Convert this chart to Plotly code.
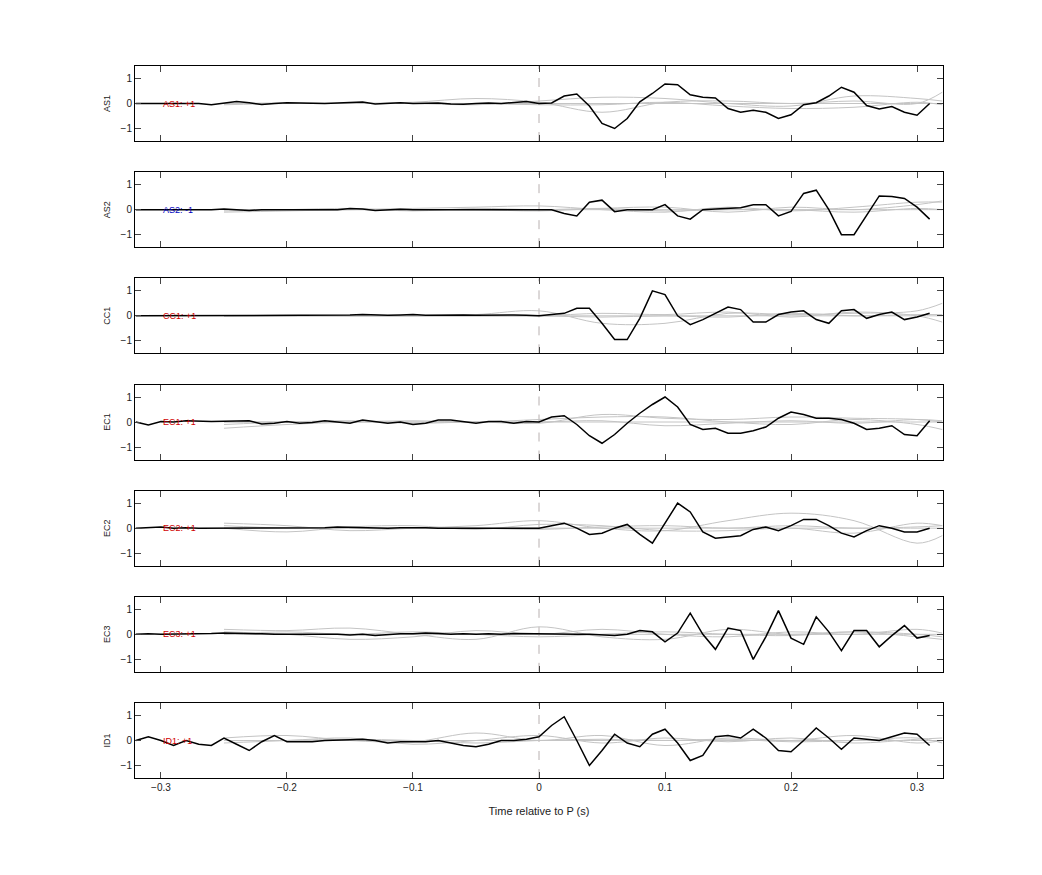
import plotly.graph_objects as go

times = [round(-0.32 + 0.01 * i, 2) for i in range(64)]
stations = ["AS1", "AS2", "CC1", "EC1", "EC2", "EC3", "ID1"]
labels = ["AS1: +1", "AS2: -1", "CC1: +1", "EC1: +1", "EC2: +1", "EC3: +1", "ID1: +1"]
label_colors = ["#d00000", "#0000c0", "#d00000", "#d00000", "#d00000", "#d00000", "#d00000"]

pre = {
 "AS1": [0,0,0.02,0,0.02,0,-0.05,0,0.08,0.03,-0.04,0,0.03,0.02,0,0,0.02,0.05,0.06,-0.02,0,0.03,0,0,0.02,-0.02,-0.03,0,0.02,0,0.05,0.08],
 "AS2": [0,0,0,0,0,-0.02,0,0.03,0,-0.03,0,0,0.02,0,0.02,0,0,0.05,0.03,-0.03,0,0.02,0,0,0.03,0,0,0.02,0,0.02,0,0.02],
 "CC1": [0,0,0,0.02,0,0,0,0.02,0,0,0,0.02,0.02,0,0,0,0.02,0.03,0.05,0.03,0.02,0.03,0.05,0.02,0.03,0.05,0.03,0.02,0.03,0.05,0.03,0.02],
 "EC1": [0,-0.12,0.02,0,0.05,0.02,0.02,0.03,0.05,0.05,-0.08,-0.05,0.02,-0.05,-0.02,0.05,0,-0.05,0.08,0,-0.05,0,-0.1,-0.05,0.08,0.08,0,-0.05,0.02,0.02,-0.05,0.02],
 "EC2": [0,0.03,0.05,0,0.02,0,0,0.02,0.03,0,0,0.02,0.02,0,0.03,0.02,0.05,0.03,0.02,0,0,0.02,0.03,0.02,0,0,0.02,0,0.02,0,0.02,0],
 "EC3": [0,0.02,0,0,0.02,0,0.03,0.05,0.05,0.05,0.02,0,0,0.02,0,0,0,-0.03,0,-0.05,0,0.02,0.02,0.05,0.03,0,0.02,0,0.02,0,0.03,0.02],
 "ID1": [0,0.15,0,-0.2,0,-0.15,-0.2,0.1,-0.15,-0.4,-0.05,0.2,-0.05,-0.05,-0.05,0,0.03,0.03,0.05,0,-0.1,-0.05,-0.05,-0.05,0,-0.1,-0.2,-0.25,-0.15,0,0,0.05],
}
post = {
 "AS1": [0,0.02,0.3,0.38,-0.1,-0.8,-1.0,-0.6,0.07,0.4,0.78,0.75,0.35,0.25,0.22,-0.2,-0.35,-0.27,-0.35,-0.6,-0.45,-0.05,0.03,0.3,0.65,0.45,-0.08,-0.22,-0.12,-0.35,-0.47,0.0],
 "AS2": [0,0,-0.15,-0.25,0.3,0.38,-0.08,0,0,0,0.2,-0.25,-0.38,0,0.03,0.05,0.08,0.2,0.2,-0.25,-0.07,0.65,0.78,0,-1.0,-1.0,-0.25,0.55,0.53,0.45,0.1,-0.38],
 "CC1": [0,0.05,0.1,0.3,0.3,-0.3,-0.95,-0.95,-0.1,1.0,0.85,0,-0.35,-0.15,0.1,0.35,0.25,-0.25,-0.25,0.05,0.15,0.2,-0.15,-0.3,0.2,0.25,-0.1,0.05,0.15,-0.15,-0.05,0.1],
 "EC1": [0,0.2,0.25,-0.1,-0.55,-0.85,-0.5,-0.05,0.35,0.7,1.0,0.6,-0.1,-0.3,-0.25,-0.45,-0.45,-0.35,-0.2,0.15,0.4,0.3,0.15,0.15,0.1,-0.05,-0.3,-0.25,-0.15,-0.5,-0.55,0.05],
 "EC2": [0,0.1,0.2,0,-0.25,-0.2,0,0.15,-0.25,-0.6,0.2,1.0,0.65,-0.15,-0.4,-0.35,-0.3,-0.05,0.05,-0.1,0.1,0.35,0.35,0.1,-0.2,-0.35,-0.1,0.1,0,-0.15,-0.15,0],
 "EC3": [0,0.02,0,0,0,-0.02,-0.05,0,0.15,0.1,-0.3,0.05,0.85,0,-0.6,0.25,0.15,-1.0,-0.1,0.95,-0.15,-0.4,0.7,0.1,-0.65,0.15,0.15,-0.5,-0.05,0.35,-0.15,-0.05],
 "ID1": [0.15,0.6,0.95,0,-1.0,-0.4,0.25,-0.1,-0.25,0.25,0.45,-0.1,-0.8,-0.6,0.15,0.2,0.1,0.45,0.1,-0.4,-0.45,0,0.5,0.1,-0.35,0.1,0.05,0,0.15,0.3,0.25,-0.2],
}

grey_t = [-0.25, -0.2, -0.15, -0.1, -0.05, 0.0, 0.05, 0.1, 0.15, 0.2, 0.25, 0.3, 0.32]
grey = {
 "AS1": [[-0.05,0,0,0.05,0.2,0.05,-0.35,0.05,0.1,0,0.1,0,0.45],
         [0,0.02,0,0,-0.05,0.1,0.25,0.2,0,-0.1,0.3,0.2,0.1],
         [0,0,0,0,0,-0.05,-0.05,0.05,-0.1,-0.2,-0.15,0.05,-0.05],
         [0,0,0,0,0,0,0,0,0,0,0,0,0]],
 "AS2": [[-0.1,-0.05,0,0.05,0.1,0.15,0,-0.1,0.1,-0.05,0.1,0.3,0.3],
         [0,0,0,0,0,-0.05,0.05,0.1,-0.1,0.1,0,0.2,0.35],
         [-0.05,0,0.05,-0.05,0.05,0,0.05,-0.05,0,0,-0.1,0.05,0],
         [0,0,0,0,0,0,0,0,0,0,0,0,0]],
 "CC1": [[0,0.02,0,0,0.05,0.2,-0.3,-0.3,0.1,0.05,0.1,0.2,0.5],
         [0,0,0,0,0,0,0.1,0.05,0.15,-0.05,0.15,0,-0.25],
         [0,0,0,0,0,0,-0.05,0,-0.05,0.1,0,0.05,0.05],
         [0,0,0,0,0,0,0,0,0,0,0,0,0]],
 "EC1": [[-0.25,-0.1,0,0.05,0,0.1,0.2,0.2,0,-0.1,0.1,-0.1,-0.3],
         [-0.1,0,0.05,-0.05,0,-0.05,0.3,0.15,0.1,0.2,0.15,0.1,0.0],
         [0,0,0,0,0,0,0.05,-0.15,-0.05,0.05,-0.05,0.1,0.05],
         [0,0,0,0,0,0,0,0,0,0,0,0,0]],
 "EC2": [[0.2,0.1,-0.1,0,0.1,0.3,0,-0.1,0.3,0.6,0.3,-0.6,-0.3],
         [0,-0.15,0.05,0.1,-0.05,0.15,0.1,-0.1,-0.1,0,-0.2,0.2,0.1],
         [0.1,0,0,0,0,-0.05,0.05,0.1,0,0.1,0,0.05,0.1],
         [0,0,0,0,0,0,0,0,0,0,0,0,0]],
 "EC3": [[0.2,0.15,0.25,0,-0.2,0.3,-0.1,-0.2,0.2,0,0.1,-0.1,-0.2],
         [0.1,0,-0.2,-0.1,0.15,0,0.2,0,-0.1,0.1,0,0.2,0.05],
         [0,0.1,0,0.1,0,-0.1,0,0.1,0,-0.05,0.1,0,-0.1],
         [0,0,0,0,0,0,0,0,0,0,0,0,0]],
 "ID1": [[0.1,0.2,0,-0.05,0.3,0,0.2,-0.2,0.1,0,0.2,-0.1,0],
         [-0.1,0,0.1,-0.15,0,0.2,-0.1,0.1,-0.05,0.1,-0.1,0.05,0.1],
         [0,0,0.05,0,-0.1,0,0.05,0,0.05,-0.05,0,0.1,-0.1],
         [0,0,0,0,0,0,0,0,0,0,0,0,0]],
}

fig = go.Figure()
n = len(stations)
top, bottom = 1 - 58 / 875, 1 - 770 / 875
h = (top - bottom)
ph = 75 / 875
step = (h - ph) / (n - 1)
font = "Liberation Sans, Arial, sans-serif"
for i, s in enumerate(stations):
    k = i + 1
    xa = "x" if k == 1 else f"x{k}"
    ya = "y" if k == 1 else f"y{k}"
    for g in grey[s]:
        fig.add_trace(go.Scatter(x=grey_t, y=g, mode="lines", line=dict(color="#c4c4c4", width=1, shape="spline"),
                                 xaxis=xa, yaxis=ya, showlegend=False, hoverinfo="skip"))
    fig.add_trace(go.Scatter(x=times, y=pre[s] + post[s], mode="lines", line=dict(color="black", width=1.5),
                             xaxis=xa, yaxis=ya, showlegend=False))
    d1 = top - i * step
    d0 = d1 - ph
    last = (k == n)
    fig.layout[f"xaxis{'' if k == 1 else k}"] = dict(
        domain=[127 / 1042, 935 / 1042], range=[-0.3206, 0.3206], anchor=ya,
        tickvals=[-0.3, -0.2, -0.1, 0, 0.1, 0.2, 0.3], showticklabels=last,
        ticks="inside", ticklen=6, mirror="ticks", showline=True, linecolor="black", linewidth=1,
        showgrid=False, zeroline=False, tickfont=dict(size=10, family=font, color="#222"),
        title=dict(text="Time relative to P (s)" if last else "", font=dict(size=11, family=font, color="#222")),
        matches=None if k == 1 else "x")
    fig.layout[f"yaxis{'' if k == 1 else k}"] = dict(
        domain=[d0, d1], range=[-1.5, 1.5], anchor=xa, tickvals=[-1, 0, 1],
        ticks="inside", ticklen=6, mirror="ticks", showline=True, linecolor="black", linewidth=1,
        showgrid=False, zeroline=False, tickfont=dict(size=10, family=font, color="#222"),
        title=dict(text=s, font=dict(size=9, family=font, color="#222"), standoff=8))
    fig.add_shape(type="line", x0=0, x1=0, y0=-1.5, y1=1.5, xref=xa, yref=ya,
                  line=dict(color="#b8b0b0", width=1, dash="dash"), layer="below")
    fig.add_annotation(x=-0.3, y=0, xref=xa, yref=ya, text=labels[i], showarrow=False, xanchor="left",
                       font=dict(size=9, family=font, color=label_colors[i]))

fig.update_layout(width=1042, height=875, margin=dict(l=0, r=0, t=0, b=0),
                  plot_bgcolor="white", paper_bgcolor="white")
fig.write_html("out.html")
